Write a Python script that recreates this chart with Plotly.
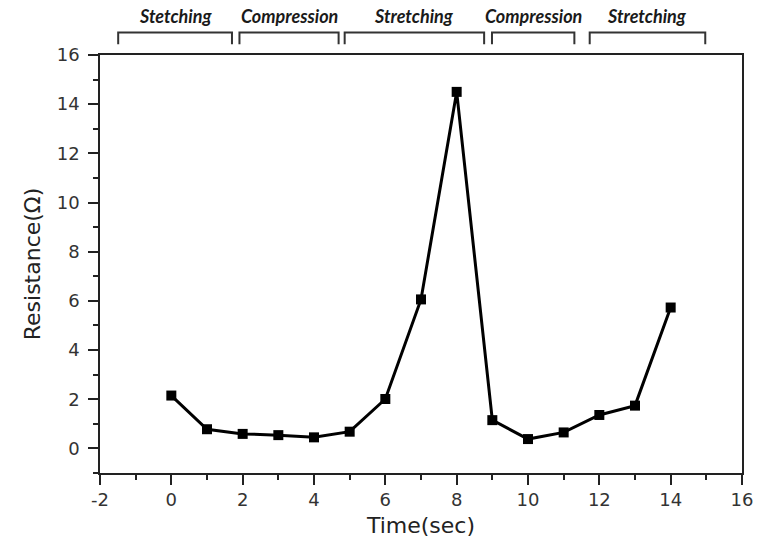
import plotly.graph_objects as go

time_sec = [0, 1, 2, 3, 4, 5, 6, 7, 8, 9, 10, 11, 12, 13, 14]
resistance = [2.15, 0.78, 0.59, 0.54, 0.45, 0.68, 2.01, 6.06, 14.5, 1.15, 0.38, 0.65, 1.36, 1.74, 5.73]

x_tick_vals = [-2, 0, 2, 4, 6, 8, 10, 12, 14, 16]
x_tick_text = ["-2", "0", "2", "4", "6", "8", "10", "12", "14", "16"]
y_tick_vals = [0, 2, 4, 6, 8, 10, 12, 14, 16]
y_tick_text = ["0", "2", "4", "6", "8", "10", "12", "14", "16"]

phase_labels = ["Stetching", "Compression", "Stretching", "Compression", "Stretching"]
phase_start = [-1.49, 1.91, 4.86, 8.99, 11.73]
phase_end = [1.70, 4.69, 8.77, 11.30, 14.97]

fig = go.Figure()
fig.add_trace(go.Scatter(
    x=time_sec, y=resistance, mode="lines+markers",
    line=dict(color="black", width=3),
    marker=dict(symbol="square", size=10, color="black"),
    showlegend=False,
))

shapes = []
annotations = []
y_top, y_bot = 1.054, 1.026
for lab, x0, x1 in zip(phase_labels, phase_start, phase_end):
    shapes.append(dict(
        type="path", xref="x", yref="paper",
        path=f"M {x0},{y_bot} L {x0},{y_top} L {x1},{y_top} L {x1},{y_bot}",
        line=dict(color="#333", width=2),
    ))
    annotations.append(dict(
        x=(x0 + x1) / 2, y=1.093, xref="x", yref="paper",
        text=f"<b><i>{lab}</i></b>", showarrow=False,
        font=dict(family="Lato, Open Sans, sans-serif", size=18, color="#1a1a1a"),
        xanchor="center", yanchor="middle",
    ))

axis_common = dict(
    showline=True, linecolor="#222", linewidth=1.5, mirror=True,
    ticks="outside", ticklen=10, tickwidth=1.5, tickcolor="#222",
    showgrid=False, zeroline=False,
    tickfont=dict(family="DejaVu Sans, Liberation Sans", size=18, color="#333"),
    minor=dict(ticks="outside", ticklen=5, tickwidth=1.5, tickcolor="#222", dtick=1, showgrid=False),
)

title_font = dict(family="DejaVu Sans, Liberation Sans", size=22, color="#222")

fig.update_xaxes(range=[-2, 16], tickmode="array", tickvals=x_tick_vals, ticktext=x_tick_text,
                 ticklabelstandoff=0,
                 title=dict(text="Time(sec)", font=title_font, standoff=8),
                 **axis_common)
fig.update_yaxes(range=[-1, 16], tickmode="array", tickvals=y_tick_vals, ticktext=y_tick_text,
                 ticklabelstandoff=5,
                 title=dict(text="Resistance(Ω)", font=title_font, standoff=10),
                 **axis_common)

fig.update_layout(
    width=765, height=548,
    margin=dict(l=100, r=16, t=55, b=75),
    plot_bgcolor="white", paper_bgcolor="white",
    shapes=shapes, annotations=annotations,
)

fig.write_html("out.html")
